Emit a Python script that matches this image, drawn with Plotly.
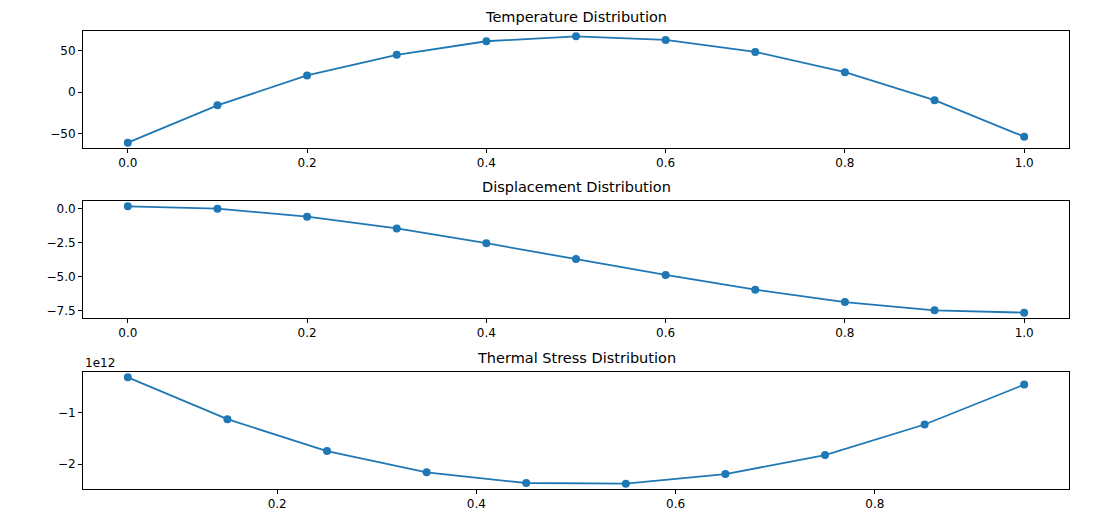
import plotly.graph_objects as go
from plotly.subplots import make_subplots

# Data
x_nodes = [0.0, 0.1, 0.2, 0.3, 0.4, 0.5, 0.6, 0.7, 0.8, 0.9, 1.0]
temperature = [-61.3, -16.0, 20.2, 45.2, 61.7, 67.7, 63.3, 48.8, 24.2, -9.7, -54.0]
displacement = [0.17, 0.0, -0.59, -1.45, -2.54, -3.69, -4.87, -5.95, -6.86, -7.47, -7.64]
x_mid = [0.05, 0.15, 0.25, 0.35, 0.45, 0.55, 0.65, 0.75, 0.85, 0.95]
stress = [-0.305e12, -1.123e12, -1.747e12, -2.162e12, -2.37e12,
          -2.383e12, -2.195e12, -1.825e12, -1.227e12, -0.448e12]

titles = ["Temperature Distribution", "Displacement Distribution", "Thermal Stress Distribution"]
stress_tickvals = [-1e12, -2e12]
stress_ticktext = ["\u22121", "\u22122"]

BLUE = "#1f77b4"
FONT = "DejaVu Sans"

fig = make_subplots(rows=3, cols=1)

series = [(x_nodes, temperature), (x_nodes, displacement), (x_mid, stress)]
for i, (xs, ys) in enumerate(series, start=1):
    fig.add_trace(go.Scatter(x=xs, y=ys, mode="lines+markers",
                             line=dict(color=BLUE, width=1.8),
                             marker=dict(color=BLUE, size=8),
                             showlegend=False, hoverinfo="x+y"), row=i, col=1)

domains = [[0.7445, 1.0], [0.3734, 0.6288], [0.0, 0.2555]]

def pad(lo, hi, frac=0.05):
    d = (hi - lo) * frac
    return [lo - d, hi + d]

xranges = [pad(min(x_nodes), max(x_nodes)), pad(min(x_nodes), max(x_nodes)), pad(min(x_mid), max(x_mid))]
yranges = [pad(min(temperature), max(temperature)), pad(min(displacement), max(displacement)), pad(min(stress), max(stress))]

axis_common = dict(showline=True, linecolor="black", linewidth=1, mirror=True,
                   ticks="outside", ticklen=4, tickwidth=1, tickcolor="black",
                   showgrid=False, zeroline=False,
                   tickfont=dict(family=FONT, size=12, color="black"))

for i in range(3):
    xk = "xaxis" if i == 0 else f"xaxis{i+1}"
    yk = "yaxis" if i == 0 else f"yaxis{i+1}"
    fig.layout[xk].update(range=xranges[i], **axis_common)
    fig.layout[yk].update(range=yranges[i], domain=domains[i], **axis_common)

fig.layout.xaxis.update(tickvals=[0.0, 0.2, 0.4, 0.6, 0.8, 1.0], tickformat=".1f")
fig.layout.xaxis2.update(tickvals=[0.0, 0.2, 0.4, 0.6, 0.8, 1.0], tickformat=".1f")
fig.layout.xaxis3.update(tickvals=[0.2, 0.4, 0.6, 0.8], tickformat=".1f")
fig.layout.yaxis.update(tickvals=[-50, 0, 50])
fig.layout.yaxis2.update(tickvals=[0.0, -2.5, -5.0, -7.5], tickformat=".1f")
fig.layout.yaxis3.update(tickvals=stress_tickvals, ticktext=stress_ticktext)

annotations = []
for i, t in enumerate(titles):
    annotations.append(dict(text=t, x=0.5, xref="paper", y=domains[i][1], yref="paper",
                            xanchor="center", yanchor="bottom", yshift=4, showarrow=False,
                            font=dict(family=FONT, size=14.5, color="black")))
annotations.append(dict(text="1e12", x=0, xref="paper", y=domains[2][1], yref="paper",
                        xanchor="left", yanchor="bottom", yshift=0, showarrow=False,
                        font=dict(family=FONT, size=12, color="black")))
fig.update_layout(annotations=annotations)

fig.update_layout(width=1100, height=522,
                  margin=dict(l=75, r=39, t=23, b=41),
                  plot_bgcolor="white", paper_bgcolor="white",
                  font=dict(family=FONT, size=12, color="black"))

fig.write_html("out.html")
